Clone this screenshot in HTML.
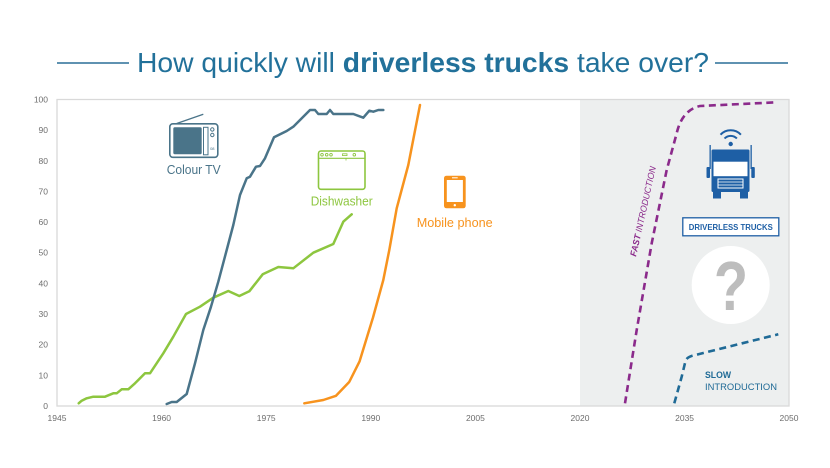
<!DOCTYPE html>
<html><head><meta charset="utf-8"><style>
html,body{margin:0;padding:0;background:#fff;}
svg{display:block;}
text{font-family:"Liberation Sans",sans-serif;}
</style></head><body>
<svg width="830" height="468" viewBox="0 0 830 468" xmlns="http://www.w3.org/2000/svg">
<!-- title -->
<line x1="57" y1="63" x2="129" y2="63" stroke="#2a6f97" stroke-width="1.4"/>
<line x1="715" y1="63" x2="788" y2="63" stroke="#2a6f97" stroke-width="1.4"/>
<text x="137" y="72" font-size="27.5" fill="#22719a" textLength="572" lengthAdjust="spacingAndGlyphs">How quickly will <tspan font-weight="bold">driverless trucks</tspan> take over?</text>

<!-- plot area -->
<rect x="580" y="99.5" width="209" height="306.5" fill="#edefef"/>
<rect x="57" y="99.5" width="732" height="306.5" fill="none" stroke="#d9d9d9" stroke-width="1.3"/>

<!-- y labels -->
<g font-size="8.5" fill="#6d6d6d" text-anchor="end">
<text x="48" y="409">0</text>
<text x="48" y="378.4">10</text>
<text x="48" y="347.7">20</text>
<text x="48" y="317">30</text>
<text x="48" y="286.4">40</text>
<text x="48" y="255.7">50</text>
<text x="48" y="225.1">60</text>
<text x="48" y="194.4">70</text>
<text x="48" y="163.8">80</text>
<text x="48" y="133.1">90</text>
<text x="48" y="102.5">100</text>
</g>
<!-- x labels -->
<g font-size="8.5" fill="#6d6d6d" text-anchor="middle">
<text x="57" y="421">1945</text>
<text x="161.6" y="421">1960</text>
<text x="266.2" y="421">1975</text>
<text x="370.8" y="421">1990</text>
<text x="475.4" y="421">2005</text>
<text x="580" y="421">2020</text>
<text x="684.6" y="421">2035</text>
<text x="789" y="421">2050</text>
</g>

<!-- series -->
<polyline fill="none" stroke="#8dc63f" stroke-width="2.5" stroke-linejoin="round" stroke-linecap="round" points="78.7,403.3 81.7,400.7 86.7,398.3 93.3,396.7 105,396.7 113.3,393.3 116.7,393.3 121.7,389.3 128.3,389.3 135,383.3 145,373.3 150,373.3 163.3,353.3 173.3,336.7 186,314 200,306.7 213.3,297.7 228.3,291 239.3,296 249.3,291.3 262.7,274.3 278.3,267 293.3,268.3 313.3,252.7 333.3,244 343.3,221.7 351.7,214.3"/>
<polyline fill="none" stroke="#4a7489" stroke-width="2.5" stroke-linejoin="round" stroke-linecap="round" points="166.7,404 171.7,402 176.7,402 186.7,394 195,363.3 203.3,330 211,306.7 218.3,281.7 226.7,250 233.3,225 240,195 246.7,178.3 250,176.7 256,166.7 260,166 265,158.3 274,137.3 286.7,131 293.3,126.7 310,110 315,110 318.3,114 326.7,114 330,110 333.3,114 353.3,114 363.3,117.7 369.3,110.7 373.3,111.7 378.3,110 383.3,110"/>
<polyline fill="none" stroke="#f7931e" stroke-width="2.5" stroke-linejoin="round" stroke-linecap="round" points="304.3,403.3 323.3,400 336,395.8 349.2,382 359.6,361.3 373,317.5 383.3,280 389.3,250 396.7,208.3 408.3,165 420,105"/>

<!-- dashed scenarios -->
<path d="M625,403.3 L636.7,330 L651.7,243.3 L666.7,170 L676.7,133.3 Q682,110 700,106 L776.7,102.3" fill="none" stroke="#8b2a8b" stroke-width="2.6" stroke-dasharray="7,4.5"/>
<path d="M674.3,403.3 L681.7,376.7 L685.5,361 Q687,357 693.3,355.5 L778.3,334.3" fill="none" stroke="#1f6a96" stroke-width="2.6" stroke-dasharray="7,4.5"/>

<text transform="translate(646,212) rotate(-77.5)" font-size="9" font-style="italic" fill="#8b2a8b" text-anchor="middle" textLength="92" lengthAdjust="spacingAndGlyphs"><tspan font-weight="bold">FAST</tspan> INTRODUCTION</text>

<text x="705" y="378" font-size="9.5" font-weight="bold" fill="#1f6a96" textLength="26" lengthAdjust="spacingAndGlyphs">SLOW</text>
<text x="705" y="390" font-size="9.5" fill="#1f6a96" textLength="72" lengthAdjust="spacingAndGlyphs">INTRODUCTION</text>

<!-- truck icon -->
<g fill="#1e5fa5" stroke="none">
<circle cx="730.7" cy="144" r="2.2"/>
<path d="M724.5,138.5 A8.5,8.5 0 0 1 736.9,138.5" fill="none" stroke="#1e5fa5" stroke-width="2"/>
<path d="M720.5,134.7 A14,14 0 0 1 740.9,134.7" fill="none" stroke="#1e5fa5" stroke-width="2"/>
<rect x="711.5" y="149.5" width="38" height="42.5" rx="1.5"/>
<rect x="713.5" y="161.7" width="34" height="14.5" fill="#fff"/>
<rect x="718" y="179" width="25" height="9" fill="none" stroke="#fff" stroke-width="1"/>
<line x1="718" y1="182" x2="743" y2="182" stroke="#fff" stroke-width="0.8"/>
<line x1="718" y1="185" x2="743" y2="185" stroke="#fff" stroke-width="0.8"/>
<rect x="713" y="191" width="8" height="7.5"/>
<rect x="740" y="191" width="8" height="7.5"/>
<rect x="709.5" y="145" width="1.3" height="24"/>
<rect x="750.5" y="145" width="1.3" height="24"/>
<rect x="706.5" y="167" width="3.5" height="11" rx="1"/>
<rect x="751.3" y="167" width="3.5" height="11" rx="1"/>
</g>
<rect x="682.8" y="217.8" width="96" height="18" fill="#fff" stroke="#1e5fa5" stroke-width="1.3"/>
<text x="730.8" y="230" font-size="8" font-weight="bold" fill="#1e5fa5" text-anchor="middle" textLength="84" lengthAdjust="spacingAndGlyphs">DRIVERLESS TRUCKS</text>

<circle cx="730.7" cy="285" r="39" fill="#fff"/>
<text transform="translate(731,310) scale(0.8,1)" font-size="70" font-weight="bold" fill="#bdbdbd" text-anchor="middle">?</text>

<!-- TV icon -->
<g>
<line x1="176.7" y1="123.5" x2="203.3" y2="114.3" stroke="#4a7489" stroke-width="1.3"/>
<rect x="169.8" y="123.8" width="48" height="33.5" rx="3" fill="none" stroke="#4a7489" stroke-width="1.6"/>
<rect x="173.3" y="127.3" width="28.4" height="27" rx="1.5" fill="#4a7489"/>
<rect x="203.5" y="127.3" width="4.5" height="27.5" fill="none" stroke="#4a7489" stroke-width="1"/>
<circle cx="212.3" cy="129.5" r="1.7" fill="none" stroke="#4a7489" stroke-width="1"/>
<circle cx="212.3" cy="135" r="1.7" fill="none" stroke="#4a7489" stroke-width="1"/>
<text x="212.3" y="150" font-size="4" fill="#4a7489" text-anchor="middle">08</text>
</g>
<text x="166.7" y="174" font-size="13" fill="#4a7489" textLength="54" lengthAdjust="spacingAndGlyphs">Colour TV</text>

<!-- dishwasher icon -->
<g fill="none" stroke="#8dc63f">
<rect x="318.5" y="151" width="46.5" height="38.3" rx="2.5" stroke-width="1.6"/>
<line x1="318.5" y1="158.3" x2="365" y2="158.3" stroke-width="1.2"/>
<circle cx="322" cy="154.7" r="1.3" stroke-width="0.9"/>
<circle cx="326.7" cy="154.7" r="1.3" stroke-width="0.9"/>
<circle cx="331" cy="154.7" r="1.3" stroke-width="0.9"/>
<rect x="342.5" y="153.8" width="4.5" height="1.8" stroke-width="0.8"/>
<circle cx="354.3" cy="154.7" r="1.3" stroke-width="0.9"/>
<line x1="346" y1="158.3" x2="346" y2="160.5" stroke-width="0.8"/>
</g>
<text x="310.7" y="205.5" font-size="13" fill="#8dc63f" textLength="62" lengthAdjust="spacingAndGlyphs">Dishwasher</text>

<!-- mobile icon -->
<rect x="444" y="175.7" width="21.7" height="32.6" rx="2.5" fill="#f7931e"/>
<rect x="446.8" y="180" width="16.1" height="22" fill="#fff"/>
<rect x="452" y="177.3" width="5.7" height="1" fill="#fff"/>
<circle cx="454.8" cy="205.2" r="1.2" fill="#fff"/>
<text x="416.7" y="227" font-size="13" fill="#f7931e" textLength="76" lengthAdjust="spacingAndGlyphs">Mobile phone</text>
</svg>
</body></html>
